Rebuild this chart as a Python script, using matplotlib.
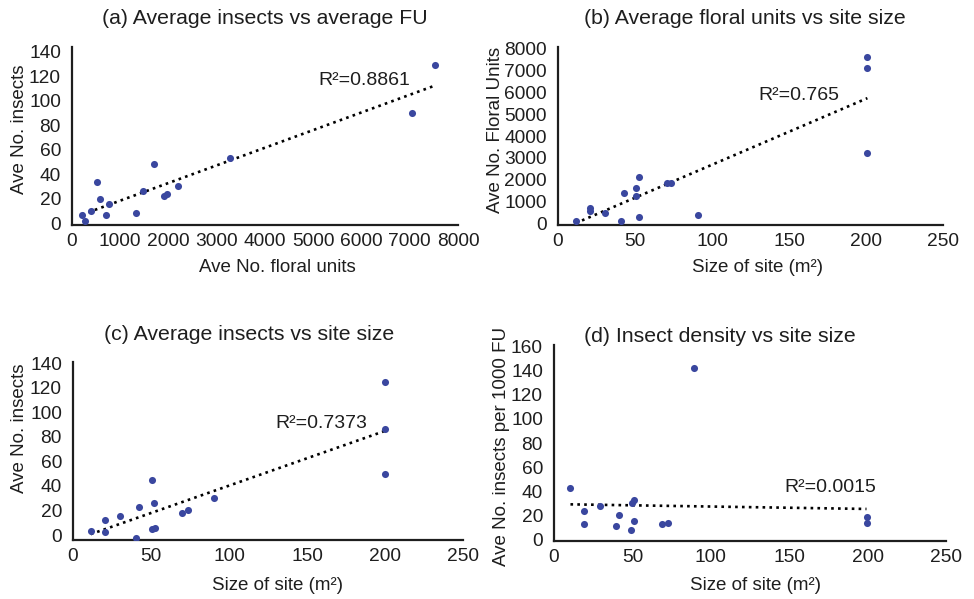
import numpy as np
import matplotlib
matplotlib.use("Agg")
import matplotlib.pyplot as plt

plt.rcParams['font.family'] = ['Liberation Sans', 'DejaVu Sans']

# (a) average insects vs average floral units
fu_a = [206, 261, 398, 515, 584, 700, 769, 1319, 1463, 1690, 1909, 1964, 2205, 3269, 7047, 7520]
ins_a = [6.8, 1.4, 10.0, 34.0, 19.7, 6.8, 15.7, 8.4, 26.5, 48.4, 22.4, 24.0, 30.3, 53.2, 90.3, 129.5]

# (b) average floral units vs site size
size_b = [11.5, 20.7, 20.7, 30.4, 40.7, 42.6, 50.7, 50.7, 52.6, 52.6, 70.9, 73.5, 90.7, 200.9, 200.9, 200.9]
fu_b = [152, 713, 592, 516, 152, 1396, 1639, 1275, 2155, 319, 1882, 1882, 410, 7603, 7102, 3232]

# (c) average insects vs site size
size_c = [11.3, 20.3, 20.3, 30.3, 40.4, 42.5, 50.4, 50.4, 52.4, 52.1, 70.1, 73.7, 90.4, 200.2, 200.2, 200.2]
ins_c = [3.2, 11.9, 2.4, 15.7, -2.0, 22.7, 44.6, 4.6, 5.4, 25.9, 18.4, 20.3, 30.0, 124.9, 86.2, 49.7]

# (d) insect density vs site size
size_d = [10.5, 19.0, 19.0, 29.3, 39.4, 41.3, 49.4, 49.7, 51.2, 51.2, 68.9, 72.8, 89.3, 199.3, 199.3]
dens_d = [43.2, 23.6, 13.0, 28.0, 11.4, 20.4, 7.9, 30.4, 33.2, 15.8, 13.0, 13.6, 141.6, 19.0, 14.1]

# linear trend lines as shown (slope, intercept) and their R²
trend_slope = [0.01442, 30.03, 0.4458, -0.0201]
trend_icpt = [4.0, -311.0, -4.3, 29.5]
r2_texts = ['R²=0.8861', 'R²=0.765', 'R²=0.7373', 'R²=0.0015']

dot_col = '#3A479F'
txt_col = '#1e1e1e'

fig = plt.figure(figsize=(9.74, 5.99), dpi=100)
W, H = 974.0, 599.0


def box(l, t, r, b):
    return [l / W, 1 - b / H, (r - l) / W, (b - t) / H]


def style(ax):
    for s in ['top', 'right']:
        ax.spines[s].set_visible(False)
    for s in ['left', 'bottom']:
        ax.spines[s].set_linewidth(1.6)
        ax.spines[s].set_color(txt_col)
    ax.tick_params(length=0, labelsize=13.8, colors=txt_col)
    ax.tick_params(axis='y', pad=8)
    ax.tick_params(axis='x', pad=6)


def panel(i, rect, x, y, xlim, ylim, yticks, xticks, r2_pos):
    ax = fig.add_axes(box(*rect))
    ax.scatter(x, y, s=26, color=dot_col, zorder=3, linewidths=0)
    xs = np.array([min(x), max(x)])
    ax.plot(xs, trend_slope[i] * xs + trend_icpt[i], color='black', lw=1.9,
            linestyle=(0, (1, 1.6)), zorder=2)
    ax.set_xlim(*xlim)
    ax.set_ylim(*ylim)
    ax.set_xticks(xticks)
    ax.set_yticks(yticks)
    ax.text(r2_pos[0], r2_pos[1], r2_texts[i], fontsize=14, va='center', ha='left', color=txt_col)
    style(ax)
    return ax


panel(0, (72, 47, 458, 225), fu_a, ins_a, (0, 8000), (-1.5, 144),
      range(0, 141, 20), range(0, 8001, 1000), (5100, 117))
panel(1, (558, 47, 943, 225), size_b, fu_b, (0, 250), (-50, 8050),
      range(0, 8001, 1000), range(0, 251, 50), (130, 5840))
panel(2, (73, 362, 463, 540), size_c, ins_c, (0, 250), (-4, 141),
      range(0, 141, 20), range(0, 251, 50), (129.5, 91))
panel(3, (554, 345, 946, 541), size_d, dens_d, (0, 250), (-1, 161),
      range(0, 161, 20), range(0, 251, 50), (147, 43))

# titles
tk = dict(fontsize=15.3, ha='center', va='center', color=txt_col)
fig.text(265 / W, 1 - 18 / H, '(a) Average insects vs average FU', **tk)
fig.text(745 / W, 1 - 18 / H, '(b) Average floral units vs site size', **tk)
fig.text(249 / W, 1 - 334 / H, '(c) Average insects vs site size', **tk)
fig.text(720 / W, 1 - 337 / H, '(d) Insect density vs site size', **tk)

# axis labels
lk = dict(fontsize=13.5, ha='center', va='center', color=txt_col)
fig.text(277 / W, 1 - 268 / H, 'Ave No. floral units', **lk)
fig.text(757 / W, 1 - 268 / H, 'Size of site (m²)', **lk)
fig.text(277 / W, 1 - 586 / H, 'Size of site (m²)', **lk)
fig.text(755 / W, 1 - 586 / H, 'Size of site (m²)', **lk)
fig.text(20 / W, 1 - 129 / H, 'Ave No. insects', rotation=90, **lk)
fig.text(496 / W, 1 - 130 / H, 'Ave No. Floral Units', rotation=90, **lk)
fig.text(20 / W, 1 - 428 / H, 'Ave No. insects', rotation=90, **lk)
fig.text(501 / W, 1 - 446 / H, 'Ave No. insects per 1000 FU', rotation=90, **lk)

fig.savefig('out.png', dpi=100)
